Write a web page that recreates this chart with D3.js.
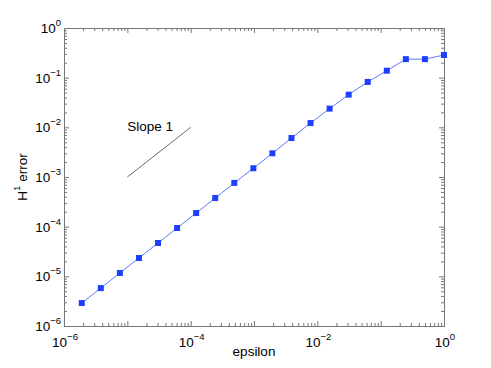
<!DOCTYPE html>
<html>
<head>
<meta charset="utf-8">
<script src="https://cdn.jsdelivr.net/npm/d3@7"></script>
<style>
  body { margin: 0; background: #fff; }
  svg { display: block; font-family: "Liberation Sans", Arial, sans-serif; }
</style>
</head>
<body>
<div id="chart"></div>
<script>
// epsilon = 2^-k, k = 0..19
const epsilon = [1, 0.5, 0.25, 0.125, 0.0625, 0.03125, 0.015625, 0.0078125,
  0.00390625, 0.001953125, 9.765625e-4, 4.8828125e-4, 2.44140625e-4,
  1.220703125e-4, 6.103515625e-5, 3.0517578125e-5, 1.52587890625e-5,
  7.62939453125e-6, 3.814697265625e-6, 1.9073486328125e-6];
const h1err = [0.286, 0.236, 0.236, 0.138, 0.082, 0.0455, 0.0238, 0.0122,
  0.0061, 0.0030, 1.5e-3, 7.6e-4, 3.78e-4, 1.88e-4, 9.4e-5, 4.69e-5,
  2.34e-5, 1.17e-5, 5.8e-6, 2.9e-6];
const slopeX = [1e-5, 1e-4], slopeY = [1e-3, 1e-2];
const majorExp = [-6, -5, -4, -3, -2, -1, 0];
const xLabelExp = [-6, -4, -2, 0];

const width = 491, height = 368;
const colors = { axis: "#777", line: "#5b7bff", mark: "#1f3fff", text: "#000" };

const x = d3.scaleLog().domain([1e-6, 1]).range([64, 444]);
const y = d3.scaleLog().domain([1e-6, 1]).range([326, 28]);

const majors = majorExp.map(e => Math.pow(10, e));
let minors = [];
majorExp.slice(0, -1).forEach(e => {
  for (let m = 2; m < 10; m++) minors.push(m * Math.pow(10, e));
});

const svg = d3.select("#chart").append("svg")
  .attr("width", width).attr("height", height);

// axes box + ticks on all sides
const axisStyle = g => {
  g.selectAll("path.domain").attr("stroke", colors.axis);
  g.selectAll(".tick line").attr("stroke", colors.axis);
  g.selectAll(".tick text").remove();
};
const addAxis = (axisFn, scale, tr, vals, size) => {
  svg.append("g").attr("transform", tr)
    .call(axisFn(scale).tickValues(vals).tickSizeInner(size).tickSizeOuter(0).tickFormat(""))
    .call(axisStyle);
};
[[d3.axisBottom, x, "translate(0,326)"], [d3.axisTop, x, "translate(0,28)"],
 [d3.axisLeft, y, "translate(64,0)"], [d3.axisRight, y, "translate(444,0)"]]
  .forEach(([fn, sc, tr]) => {
    addAxis(fn, sc, tr, majors, -5);
    addAxis(fn, sc, tr, minors, -3);
  });

// tick labels 10^n
const label = (g, e) => {
  g.append("tspan").text("10");
  g.append("tspan").attr("dy", -7).attr("font-size", 9.5)
    .text(e < 0 ? "\u2212" + (-e) : e);
};
svg.append("g").selectAll("text").data(xLabelExp).enter().append("text")
  .attr("x", d => x(Math.pow(10, d)) + 1).attr("y", 346.5)
  .attr("text-anchor", "middle").attr("font-size", 13.5).attr("fill", colors.text)
  .each(function(d) { label(d3.select(this), d); });
svg.append("g").selectAll("text").data(majorExp).enter().append("text")
  .attr("x", 61).attr("y", d => y(Math.pow(10, d)) + 5)
  .attr("text-anchor", "end").attr("font-size", 13.5).attr("fill", colors.text)
  .each(function(d) { label(d3.select(this), d); });

// axis titles
svg.append("text").attr("x", 254).attr("y", 356)
  .attr("text-anchor", "middle").attr("font-size", 13.5).text("epsilon");
const yt = svg.append("text").attr("transform", "translate(27,177) rotate(-90)")
  .attr("text-anchor", "middle").attr("font-size", 13.5);
yt.append("tspan").text("H");
yt.append("tspan").attr("dy", -7).attr("font-size", 9.5).text("1");
yt.append("tspan").attr("dy", 7).text(" error");

// slope reference
const pts = epsilon.map((e, i) => ({ x: e, y: h1err[i] }));
const slope = slopeX.map((v, i) => ({ x: v, y: slopeY[i] }));
const lineGen = d3.line().x(d => x(d.x)).y(d => y(d.y));
svg.append("path").attr("d", lineGen(slope))
  .attr("fill", "none").attr("stroke", "#444").attr("stroke-width", 0.8);
svg.append("text").attr("x", x(slopeX[0])).attr("y", 131)
  .attr("font-size", 13.5).text("Slope 1");

// data
svg.append("path").attr("d", lineGen(pts))
  .attr("fill", "none").attr("stroke", colors.line).attr("stroke-width", 1);
svg.append("g").selectAll("rect").data(pts).enter().append("rect")
  .attr("x", d => x(d.x) - 3).attr("y", d => y(d.y) - 3)
  .attr("width", 6).attr("height", 6).attr("fill", colors.mark);
</script>
</body>
</html>
